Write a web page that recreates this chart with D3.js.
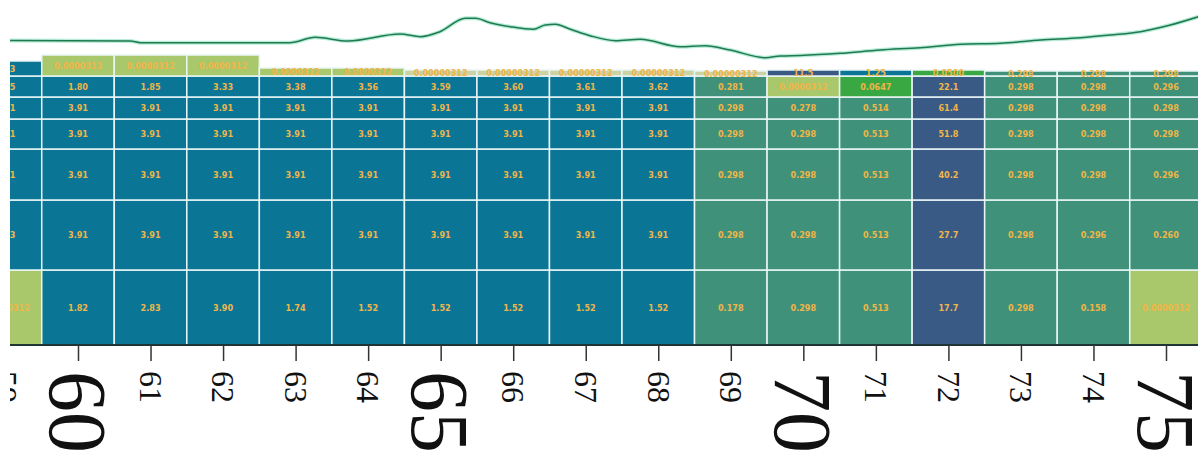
<!DOCTYPE html>
<html><head><meta charset="utf-8">
<script src="https://cdn.jsdelivr.net/npm/d3@7"></script>
<style>html,body{margin:0;padding:0;background:#fff;overflow:hidden}</style>
</head><body>
<svg id="chart" width="1198" height="464"></svg>
<script>
// ---- data ----
const columns = [59,60,61,62,63,64,65,66,67,68,69,70,71,72,73,74,75];
const tiny = 0.0000312;
const tinier = 0.00000312;
const rowA = [3.73,tiny,tiny,tiny,tiny,tiny,tinier,tinier,tinier,tinier,tinier,11.5,1.25,0.0500,0.298,0.298,0.298];
const rowB = [3.75,1.80,1.85,3.33,3.38,3.56,3.59,3.60,3.61,3.62,0.281,tiny,0.0647,22.1,0.298,0.298,0.296];
const rowC = [3.91,3.91,3.91,3.91,3.91,3.91,3.91,3.91,3.91,3.91,0.298,0.278,0.514,61.4,0.298,0.298,0.298];
const rowD = [3.91,3.91,3.91,3.91,3.91,3.91,3.91,3.91,3.91,3.91,0.298,0.298,0.513,51.8,0.298,0.298,0.298];
const rowE = [3.91,3.91,3.91,3.91,3.91,3.91,3.91,3.91,3.91,3.91,0.298,0.298,0.513,40.2,0.298,0.298,0.296];
const rowF = [3.93,3.91,3.91,3.91,3.91,3.91,3.91,3.91,3.91,3.91,0.298,0.298,0.513,27.7,0.298,0.296,0.260];
const rowG = [tiny,1.82,2.83,3.90,1.74,1.52,1.52,1.52,1.52,1.52,0.178,0.298,0.513,17.7,0.298,0.158,tiny];
// row intervals on the vertical (depth) axis, bottom row first
const rowLower = [0, 75, 145, 196, 226, 248, 269];
const rowUpper = [75, 145, 196, 226, 248, 269];
// top edge of the first row, per column
const topRowUpper = [284,290,290,290,277,277,275,275,275,275,274,275,275,275,274,274,274];
// overlay line
const lineX = [59.06,60.72,60.86,62.92,63.27,63.72,64.44,64.72,64.99,65.34,65.48,65.68,65.96,66.28,66.44,66.58,66.79,67.06,67.41,67.75,68.30,68.65,68.99,69.48,69.68,69.96,70.51,71.06,71.61,72.17,72.72,73.27,73.82,74.23,74.65,75.06,75.45];
const lineY = [19.5,19,17.3,17.3,22.7,19,26,23.3,28.3,41.7,41.7,37.3,33.3,30.7,35,35.7,30.7,24.3,19.3,20.7,13.3,14.3,10,2.3,4,4.5,6.7,10,12.3,15.7,16.7,20,22.3,25,28.3,35,43.3];
const majorTicks = [60,65,70,75];

// ---- scales ----
const svg = d3.select("#chart");
const x = d3.scaleLinear().domain([60,75]).range([78,1166]);
const y = d3.scaleLinear().domain([0,300]).range([345,45]);
const yLine = d3.scaleLinear().domain([0,50]).range([60,10]);
const color = d3.scaleThreshold().domain([0.00001,0.001,0.1,1,10])
  .range(["#cbd2a4","#a9c86c","#3aa842","#3f9279","#0b7596","#3a5a86"]);
const fmt = d3.format(".3r");

svg.append("defs").append("clipPath").attr("id","clip")
  .append("rect").attr("x",10).attr("y",0).attr("width",1188).attr("height",464);
const g = svg.append("g").attr("clip-path","url(#clip)");

// ---- cells ----
const rows = [rowG,rowF,rowE,rowD,rowC,rowB,rowA];
const cells = [];
rows.forEach((vals, ri) => {
  vals.forEach((v, ci) => {
    const lo = rowLower[ri];
    const hi = ri < rowUpper.length ? rowUpper[ri] : topRowUpper[ci];
    cells.push({c: columns[ci], v, lo, hi});
  });
});
const cg = g.append("g");
cg.selectAll("rect").data(cells).join("rect")
  .attr("x", d => x(d.c - 0.5))
  .attr("width", d => x(d.c + 0.5) - x(d.c - 0.5))
  .attr("y", d => y(d.hi))
  .attr("height", d => y(d.lo) - y(d.hi))
  .attr("fill", d => color(d.v))
  .attr("stroke", "#eaf6f6").attr("stroke-width", 1.5);
cg.selectAll("text").data(cells).join("text")
  .attr("x", d => x(d.c))
  .attr("y", d => (y(d.lo) + y(d.hi)) / 2)
  .attr("dy", "0.35em")
  .attr("text-anchor", "middle")
  .attr("font-family", "DejaVu Sans Condensed, DejaVu Sans")
  .attr("font-weight", "bold")
  .attr("font-size", 9)
  .attr("fill", "#f0b548")
  .text(d => fmt(d.v));

// ---- line ----
const pts = lineX.map((v,i) => [v, lineY[i]]);
const lineGen = d3.line().curve(d3.curveMonotoneX).x(d => x(d[0])).y(d => yLine(d[1]));
g.append("path").datum(pts).attr("d", lineGen)
  .attr("fill","none").attr("stroke","#b8ecd8").attr("stroke-width",4);
g.append("path").datum(pts).attr("d", lineGen)
  .attr("fill","none").attr("stroke","#1f7a50").attr("stroke-width",1.5);

// ---- axis ----
const axis = d3.axisBottom(x).tickValues(columns).tickSize(16).tickSizeOuter(0)
  .tickFormat(d3.format("d"));
const ag = g.append("g").attr("transform","translate(0,345)").call(axis);
ag.select(".domain").attr("stroke","#1f3535").attr("stroke-width",2)
  .attr("d", "M10,0H1198");
ag.selectAll(".tick line").attr("stroke","#333").attr("stroke-width",1.5);
ag.selectAll(".tick text")
  .attr("font-family","Liberation Serif, serif")
  .attr("font-size", d => majorTicks.includes(d) ? 82 : 32)
  .attr("fill","#111")
  .attr("text-anchor","start")
  .attr("transform","rotate(90)")
  .attr("x", 26).attr("y", 0).attr("dy","0.35em");
</script>
</body></html>
